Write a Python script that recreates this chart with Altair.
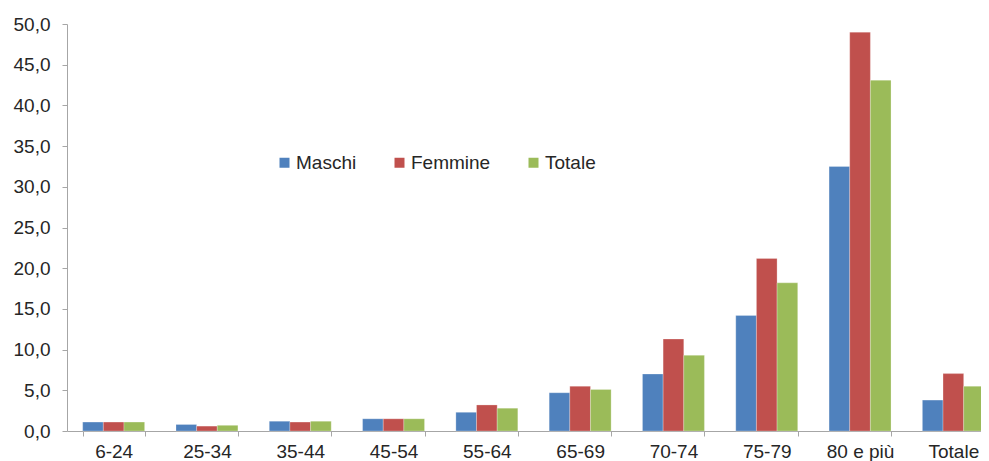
import altair as alt
import pandas as pd

categories = ["6-24", "25-34", "35-44", "45-54", "55-64", "65-69", "70-74", "75-79", "80 e più", "Totale"]
series = ["Maschi", "Femmine", "Totale"]
maschi = [1.1, 0.8, 1.2, 1.5, 2.3, 4.7, 7.0, 14.2, 32.5, 3.8]
femmine = [1.1, 0.6, 1.1, 1.5, 3.2, 5.5, 11.3, 21.2, 49.0, 7.05]
totale = [1.1, 0.7, 1.2, 1.5, 2.8, 5.1, 9.3, 18.2, 43.1, 5.5]
colors = ["#4F81BD", "#C0504D", "#9BBB59"]

rows = []
for s, vals in zip(series, [maschi, femmine, totale]):
    for c, v in zip(categories, vals):
        rows.append({"cat": c, "serie": s, "val": v})
df = pd.DataFrame(rows)

FONT = "Liberation Sans"
AX = "#A6A6A6"
TXT = "#262626"

chart = alt.Chart(df).mark_bar(stroke="white", strokeWidth=0.5, strokeOpacity=0.5).encode(
    x=alt.X("cat:N", sort=categories, title=None,
            scale=alt.Scale(paddingInner=0.336, paddingOuter=0.168),
            axis=alt.Axis(labelAngle=0, tickBand="extent", domainColor=AX, tickColor=AX,
                          tickSize=5, labelPadding=6, labelFont=FONT, labelFontSize=19,
                          labelColor=TXT, grid=False)),
    xOffset=alt.XOffset("serie:N", sort=series),
    y=alt.Y("val:Q", title=None,
            scale=alt.Scale(domain=[0, 50], nice=False),
            axis=alt.Axis(values=list(range(0, 51, 5)), grid=False, domainColor=AX, tickColor=AX,
                          tickSize=5, labelPadding=12, labelFont=FONT, labelFontSize=19,
                          labelColor=TXT,
                          labelExpr="replace(format(datum.value, '.1f'), '.', ',')")),
    color=alt.Color("serie:N", sort=series, title=None,
                    scale=alt.Scale(domain=series, range=colors),
                    legend=alt.Legend(orient="none", legendX=208, legendY=129, direction="horizontal",
                                      symbolType="square", symbolSize=100, symbolStrokeWidth=0,
                                      labelFont=FONT, labelFontSize=19, labelColor=TXT,
                                      labelOffset=2, columnPadding=33, padding=0)),
).properties(
    width=933, height=407,
    autosize=alt.AutoSizeParams(type="none"),
    padding={"left": 59, "top": 16, "right": -19, "bottom": 30},
).configure_view(stroke=None)

chart.save("out.html", embed_options={"renderer": "svg", "actions": False})
